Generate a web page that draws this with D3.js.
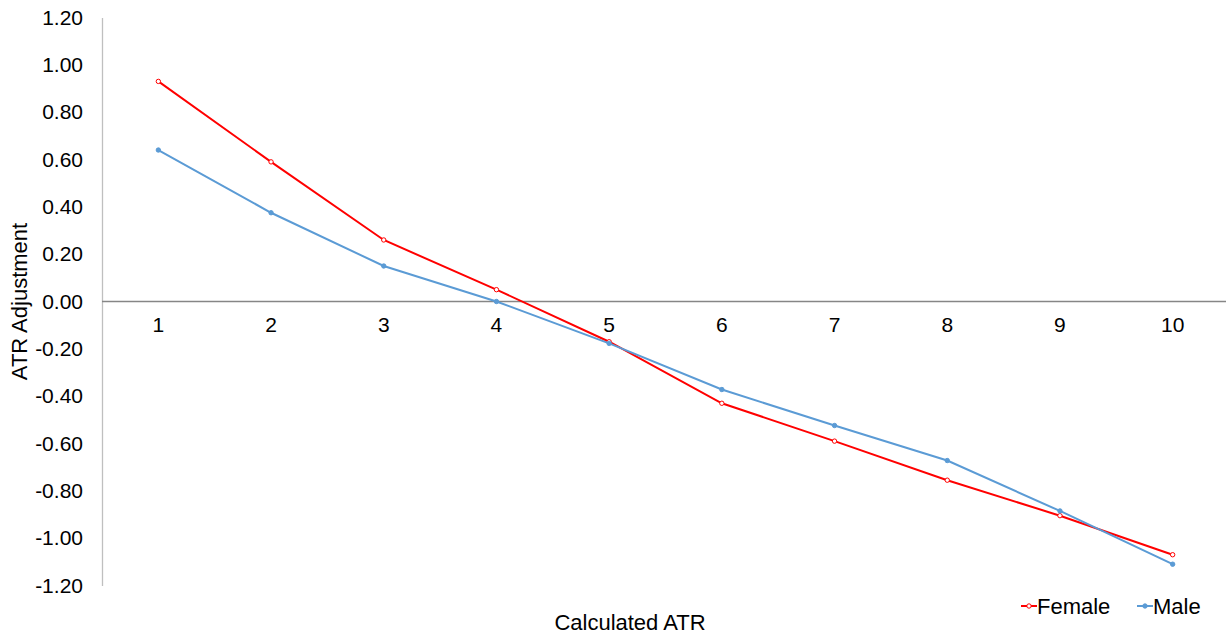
<!DOCTYPE html>
<html>
<head>
<meta charset="utf-8">
<script src="https://cdn.jsdelivr.net/npm/d3@7"></script>
<style>
  body { margin: 0; background: #fff; }
  svg { font-family: "Liberation Sans", Arial, sans-serif; }
</style>
</head>
<body>
<div id="chart"></div>
<script>
var categories = [1, 2, 3, 4, 5, 6, 7, 8, 9, 10];
var female = [0.93, 0.59, 0.26, 0.05, -0.17, -0.43, -0.59, -0.755, -0.905, -1.07];
var male = [0.64, 0.375, 0.15, 0.0, -0.177, -0.372, -0.524, -0.672, -0.885, -1.11];
var yTicks = [1.2, 1.0, 0.8, 0.6, 0.4, 0.2, 0, -0.2, -0.4, -0.6, -0.8, -1.0, -1.2];

var width = 1227, height = 637;
var plotLeft = 102, plotRight = 1229, plotTop = 17.5, plotBottom = 585.5;
var tickSize = 21, titleSize = 22;

var svg = d3.select('#chart').append('svg')
    .attr('width', width)
    .attr('height', height);

var x = d3.scaleBand()
    .domain(categories)
    .range([plotLeft, plotRight]);

var y = d3.scaleLinear()
    .domain([-1.2, 1.2])
    .range([plotBottom, plotTop]);

// plain hyphen for negatives, like the original
var fmt = function(d) { return d3.format('.2f')(d).replace('\u2212', '-'); };

// y axis
var yAxis = svg.append('g')
    .attr('transform', 'translate(' + plotLeft + ',0)')
    .call(d3.axisLeft(y).tickValues(yTicks).tickSize(0).tickPadding(19)
        .tickFormat(fmt));
yAxis.select('.domain').attr('stroke', '#bfbfbf').attr('stroke-width', 1.3);
yAxis.selectAll('text').attr('font-size', tickSize).attr('fill', '#000')
    .attr('font-family', '"Liberation Sans", Arial, sans-serif');

// x axis at zero
var xAxis = svg.append('g')
    .attr('transform', 'translate(0,' + y(0) + ')')
    .call(d3.axisBottom(x).tickSize(0).tickPadding(16));
xAxis.select('.domain').attr('stroke', '#868686').attr('stroke-width', 1.3)
    .attr('d', 'M' + plotLeft + ',0H' + 1226);
xAxis.selectAll('text').attr('font-size', tickSize).attr('fill', '#000')
    .attr('font-family', '"Liberation Sans", Arial, sans-serif');

// axis titles
svg.append('text')
    .attr('transform', 'translate(27,' + ((plotTop + plotBottom) / 2) + ') rotate(-90)')
    .attr('text-anchor', 'middle')
    .attr('font-size', titleSize)
    .text('ATR Adjustment');

svg.append('text')
    .attr('x', 630)
    .attr('y', 630)
    .attr('text-anchor', 'middle')
    .attr('font-size', titleSize)
    .text('Calculated ATR');

var series = [
    { name: 'Female', values: female, color: '#ff0000', fill: '#fff' },
    { name: 'Male', values: male, color: '#5b9bd5', fill: '#5b9bd5' }
];

var line = d3.line()
    .x(function(d, i) { return x(categories[i]) + x.bandwidth() / 2; })
    .y(function(d) { return y(d); });

series.forEach(function(s) {
    svg.append('path')
        .datum(s.values)
        .attr('fill', 'none')
        .attr('stroke', s.color)
        .attr('stroke-width', 2)
        .attr('d', line);

    svg.selectAll('.pt-' + s.name)
        .data(s.values)
        .enter().append('circle')
        .attr('class', 'pt-' + s.name)
        .attr('cx', function(d, i) { return x(categories[i]) + x.bandwidth() / 2; })
        .attr('cy', function(d) { return y(d); })
        .attr('r', 2.2)
        .attr('fill', s.fill)
        .attr('stroke', s.color)
        .attr('stroke-width', 1);
});

// legend
var legendX = [1021, 1137];
series.forEach(function(s, i) {
    var g = svg.append('g').attr('transform', 'translate(' + legendX[i] + ',606)');
    g.append('line')
        .attr('x1', 0).attr('x2', 16)
        .attr('stroke', s.color).attr('stroke-width', 2);
    g.append('circle')
        .attr('cx', 8).attr('r', 2.2)
        .attr('fill', s.fill).attr('stroke', s.color).attr('stroke-width', 1);
    g.append('text')
        .attr('x', 16)
        .attr('y', 7.5)
        .attr('font-size', titleSize)
        .text(s.name);
});
</script>
</body>
</html>
